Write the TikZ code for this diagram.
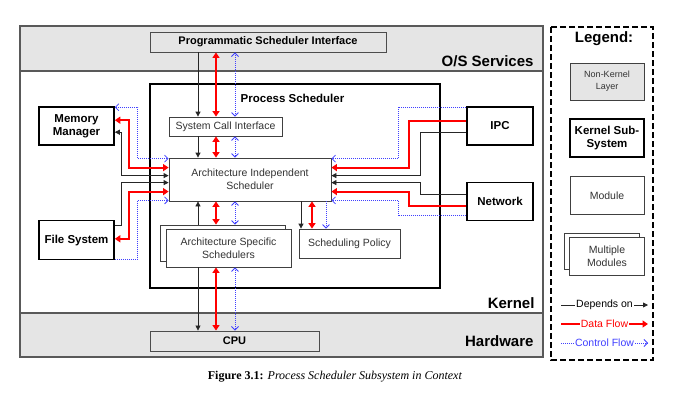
\documentclass[tikz,border=0pt]{standalone}
\usepackage{fontspec}
\setmainfont{Liberation Sans}
\newfontfamily\capfont{Liberation Serif}
\usetikzlibrary{positioning, arrows.meta}

\begin{document}
\begin{tikzpicture}[x=1pt, y=-1pt, node distance=18pt,
  layer/.style={draw=black!65, line width=1.2pt, fill=black!10},
  layerbox/.style={draw=black!70, line width=0.9pt, fill=black!10, inner sep=0pt, font=\bfseries\fontsize{11}{13}\selectfont},
  module/.style={draw=black!75, line width=0.8pt, fill=white, inner sep=0pt, align=center, text=black!80, font=\fontsize{10.5}{13}\selectfont},
  subsys/.style={draw=black, line width=1.6pt, fill=white, inner sep=0pt, align=center, font=\bfseries\fontsize{11.5}{13}\selectfont},
  tag/.style={font=\bfseries\fontsize{15}{17}\selectfont, anchor=base east},
  dep/.style={draw=black!85, line width=0.8pt, >={Triangle[length=5pt,width=5pt]}},
  data/.style={draw=red, line width=2pt, >={Triangle[length=5.5pt,width=7pt]}},
  ctrl/.style={draw=blue!75, line width=0.8pt, dash pattern=on 1pt off 1pt, >={Straight Barb[length=3.5pt,width=7pt]}}]

\useasboundingbox (0,0) rectangle (677,407);

% layers
\draw[layer] (20,26) rectangle (543,71);
\draw[layer, fill=white] (20,71) rectangle (543,313);
\draw[layer] (20,313) rectangle (543,357);
\node[tag] (os)   at (537,66)  {O/S Services};
\node[tag] (kern) at (538,308) {Kernel};
\node[tag] (hw)   at (537,346) {Hardware};

\node[layerbox, minimum width=236pt, minimum height=20pt] (psi) at (268,42) {Programmatic Scheduler Interface};
\node[draw, line width=1.6pt, minimum width=290pt, minimum height=204pt] (ps) at (295,186) {};
\node[font=\bfseries\fontsize{11.5}{13}\selectfont] (pstitle) at (292.5,98) {Process Scheduler};
\node[module, minimum width=113pt, minimum height=19pt] (sci) at (225.5,126.5) {System Call Interface};
\node[module, minimum width=162pt, minimum height=43pt] (ais) at (250,179.5) {Architecture Independent\\Scheduler};
\node[module, minimum width=125pt, minimum height=36pt] (assb) at (223,243) {};
\node[module, minimum width=125pt, minimum height=38pt] (ass) at ([xshift=5.5pt,yshift=-5pt]assb.center) {Architecture Specific\\Schedulers};
\node[module, minimum width=101pt, minimum height=29pt] (sp) at (349.5,243.5) {Scheduling Policy};
\node[layerbox, minimum width=169pt, minimum height=20pt] (cpu) at (234.5,341) {CPU};

\node[subsys, minimum width=75pt, minimum height=38pt] (mm) at (76.5,126) {Memory\\Manager};
\node[subsys, minimum width=75pt, minimum height=39pt, below=74pt of mm] (fs) {File System};
\node[subsys, minimum width=66pt, minimum height=38pt] (ipc) at (500,126) {IPC};
\node[subsys, minimum width=66pt, minimum height=38pt, below=36pt of ipc] (net) {Network};

\coordinate (kx) at (198,0);
\coordinate (rx) at (216,0);
\coordinate (bx) at (235,0);
\coordinate (kx2) at (301,0);
\coordinate (rx2) at (312,0);
\coordinate (bx2) at (326,0);

\draw[dep,->] (psi.south -| kx) -- (sci.north -| kx);
\draw[data,<->] (psi.south -| rx) -- (sci.north -| rx);
\draw[ctrl,<->] (psi.south -| bx) -- (sci.north -| bx);
\draw[dep,->] (sci.south -| kx) -- (ais.north -| kx);
\draw[data,<->] (sci.south -| rx) -- (ais.north -| rx);
\draw[ctrl,<->] (sci.south -| bx) -- (ais.north -| bx);
\draw[dep,->] (assb.north -| kx) -- (ais.south -| kx);
\draw[data,<->] (ais.south -| rx) -- (assb.north -| rx);
\draw[ctrl,<->] (ais.south -| bx) -- (assb.north -| bx);
\draw[dep,->] (ass.south -| kx) -- (cpu.north -| kx);
\draw[data,<->] (ass.south -| rx) -- (cpu.north -| rx);
\draw[ctrl,<->] (ass.south -| bx) -- (cpu.north -| bx);
\draw[dep,->] (ais.south -| kx2) -- (sp.north -| kx2);
\draw[data,<->] (ais.south -| rx2) -- (sp.north -| rx2);
\draw[ctrl,->] (ais.south -| bx2) -- (sp.north -| bx2);

\draw[ctrl,<->] ([yshift=-1pt]mm.north east) -- ++(23,0) |- ([yshift=-1pt]ais.north west);
\draw[data,<->] ([yshift=-14pt]mm.north east) -- ++(14,0) |- ([yshift=-10pt]ais.north west);
\draw[dep,<->] ([yshift=-26pt]mm.north east) -- ++(7,0) |- ([yshift=-18pt]ais.north west);
\draw[dep,->] ([yshift=-6pt]fs.north east) -- ++(7,0) |- ([yshift=-25pt]ais.north west);
\draw[data,<->] ([yshift=-19pt]fs.north east) -- ++(14,0) |- ([yshift=-34pt]ais.north west);
\draw[ctrl,->] ([yshift=1pt]fs.south east) -- ++(23,0) |- ([yshift=1pt]ais.south west);

\draw[ctrl,->] ([yshift=-1pt]ipc.north west) -- ++(-68,0) |- ([yshift=-1pt]ais.north east);
\draw[data,->] ([yshift=-15pt]ipc.north west) -- ++(-57,0) |- ([yshift=-10pt]ais.north east);
\draw[dep,->] ([yshift=-26pt]ipc.north west) -- ++(-46,0) |- ([yshift=-18pt]ais.north east);
\draw[dep,->] ([yshift=-13pt]net.north west) -- ++(-46,0) |- ([yshift=-25pt]ais.north east);
\draw[data,->] ([yshift=-24pt]net.north west) -- ++(-57,0) |- ([yshift=-34pt]ais.north east);
\draw[ctrl,->] ([yshift=-34pt]net.north west) -- ++(-68,0) |- ([yshift=1pt]ais.south east);

% legend
\draw[line width=1.6pt, dash pattern=on 6pt off 3pt] (551,27) rectangle (653,360);
\node[font=\bfseries\fontsize{15}{17}\selectfont, anchor=base] (legend) at (604,42) {Legend:};
\node[module, fill=black!10, font=\fontsize{9}{12}\selectfont, minimum width=74pt, minimum height=37pt] (nkl) at (607,81.5) {Non-Kernel\\Layer};
\node[subsys, minimum width=74pt, minimum height=38pt, below=of nkl] (kss) {Kernel Sub-\\System};
\node[module, minimum width=74pt, minimum height=38pt, below=of kss] (mod) {Module};
\node[module, minimum width=75pt, minimum height=36pt, below=of mod, xshift=-5pt] (mulb) {};
\node[module, minimum width=75pt, minimum height=38pt] (mul) at ([xshift=5pt,yshift=-5pt]mulb.center) {Multiple\\Modules};

\coordinate (dep1) at (561,305);
\coordinate (dep2) at (648,305);
\coordinate (dat1) at (561,324);
\coordinate (dat2) at (648,324);
\coordinate (ctl1) at (561,343);
\coordinate (ctl2) at (648,343);
\draw[dep,->] (dep1) -- node[fill=white, inner sep=1pt, font=\fontsize{10.5}{12}\selectfont] {Depends on} (dep2);
\draw[data,->] (dat1) -- node[fill=white, inner sep=1pt, text=red, font=\fontsize{10.5}{12}\selectfont] {Data Flow} (dat2);
\draw[ctrl,->] (ctl1) -- node[fill=white, inner sep=1pt, text=blue!75, font=\fontsize{10.5}{12}\selectfont] {Control Flow} (ctl2);

\node[font=\capfont\fontsize{12}{14}\selectfont] (cap) at (335,377) {\textbf{Figure 3.1:} \textit{Process Scheduler Subsystem in Context}};
\end{tikzpicture}
\end{document}
